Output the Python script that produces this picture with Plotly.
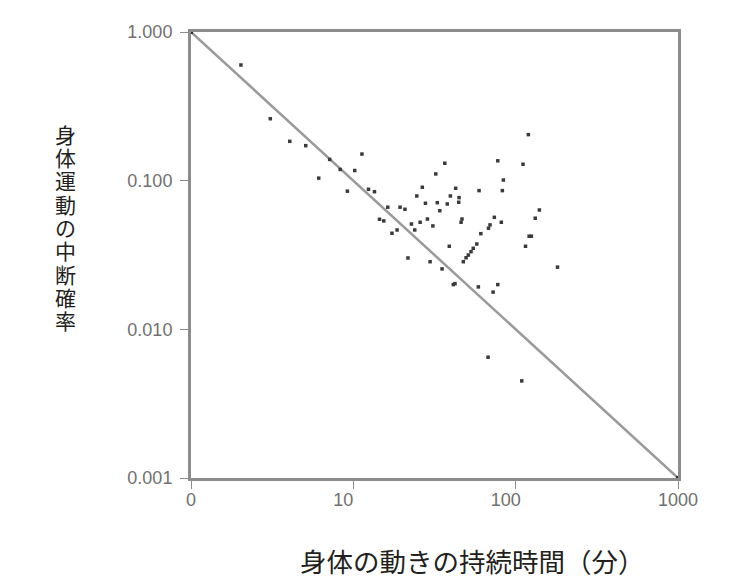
import plotly.graph_objects as go

# Duration of bodily movement (minutes) and probability of interruption
duration_min = [
    2.03, 3.08, 4.06, 5.09, 7.15, 6.12, 8.3, 11.3, 10.2, 9.19, 12.4, 13.5,
    16.3, 19.4, 20.8, 14.5, 15.4, 17.3, 18.6, 22.8, 23.9, 25.8, 26.6, 24.6,
    27.8, 28.6, 21.7, 29.7, 32.2, 36.6, 32.9, 34.1, 30.9, 37.9, 39.6, 42.7,
    44.8, 44.6, 46.7, 46.1, 39.0, 35.2, 41.3, 42.3, 59.5, 77.6, 84.0, 82.8,
    119.7, 111, 140, 132, 121, 125, 115, 181, 73.9, 69.5, 68.0, 81.6, 61.0,
    47.6, 49.5, 51.1, 53.1, 54.8, 57.6, 58.9, 77.6, 72.6, 67.6, 109,
]
interrupt_prob = [
    0.60, 0.261, 0.184, 0.172, 0.139, 0.104, 0.119, 0.151, 0.117, 0.085, 0.0875, 0.0843,
    0.0663, 0.0663, 0.0642, 0.055, 0.0536, 0.0443, 0.0466, 0.0511, 0.0466, 0.0525, 0.0903, 0.0789,
    0.0705, 0.0552, 0.0302, 0.0285, 0.111, 0.131, 0.0711, 0.0628, 0.0496, 0.0697, 0.0789, 0.0889,
    0.0769, 0.0716, 0.0552, 0.0525, 0.0362, 0.0255, 0.0200, 0.0203, 0.0857, 0.136, 0.101, 0.0857,
    0.204, 0.129, 0.0635, 0.0559, 0.0423, 0.0423, 0.0362, 0.0262, 0.0567, 0.0504, 0.0479, 0.0525, 0.0440,
    0.0285, 0.0303, 0.0316, 0.0333, 0.0351, 0.0375, 0.0193, 0.0200, 0.0178, 0.00649, 0.0045,
]

# Reference line (slope -1 on log-log axes)
ref_x = [1, 1000]
ref_y = [1, 0.001]

FS = "\u2007"  # figure space, nudges labels as in the original print
x_tickvals = [1, 10, 100, 1000]
x_ticktext = ["0", "10" + FS + FS, "100" + FS + FS, "1000"]
y_tickvals = [0.001, 0.01, 0.1, 1]
y_ticktext = ["0.001", "0.010", "0.100", "1.000"]

x_title = "身体の動きの持続時間（分）"
y_title = "身体運動の中断確率"

fig = go.Figure()
fig.add_trace(go.Scatter(
    x=ref_x, y=ref_y, mode="lines+markers",
    line=dict(color="#9a9a9a", width=2.5),
    marker=dict(symbol="square", size=4, color="#333333"),
    hoverinfo="skip", cliponaxis=False,
))
fig.add_trace(go.Scatter(
    x=duration_min, y=interrupt_prob, mode="markers",
    marker=dict(symbol="square", size=3.5, color="#3a3a3a"),
    cliponaxis=False,
))

axis_common = dict(
    showline=True, linewidth=3, linecolor="#8c8c8c", mirror=True,
    ticks="outside", ticklen=8, tickwidth=1, tickcolor="#8c8c8c",
    showgrid=False, zeroline=False,
    tickfont=dict(family="Liberation Sans", size=18, color="#707070"),
)

fig.update_xaxes(type="log", range=[0, 3], tickvals=x_tickvals, ticktext=x_ticktext,
                 ticklabelstandoff=-5, **axis_common)
fig.update_yaxes(type="log", range=[-3, 0], tickvals=y_tickvals, ticktext=y_ticktext,
                 ticklabelstandoff=4, **axis_common)

fig.add_annotation(
    text=x_title, xref="paper", yref="paper", x=0.578, y=-0.186,
    xanchor="center", yanchor="middle", showarrow=False,
    font=dict(family="Noto Sans CJK JP", size=26.5, color="#231f20"),
)

# vertical title, one character per row (tightly stacked as in the original)
y_top, y_bottom = 0.769, 0.350
n = len(y_title)
for i, ch in enumerate(y_title):
    fig.add_annotation(
        text=ch, xref="paper", yref="paper", x=-0.2587,
        y=y_top + (y_bottom - y_top) * i / (n - 1),
        xanchor="center", yanchor="middle", showarrow=False,
        font=dict(family="Liberation Sans, Noto Sans CJK JP", size=21, color="#231f20"),
    )

fig.update_layout(
    width=742, height=573,
    margin=dict(l=183, r=72, t=24, b=103),
    paper_bgcolor="white", plot_bgcolor="white",
    showlegend=False,
)

fig.write_html("out.html")
